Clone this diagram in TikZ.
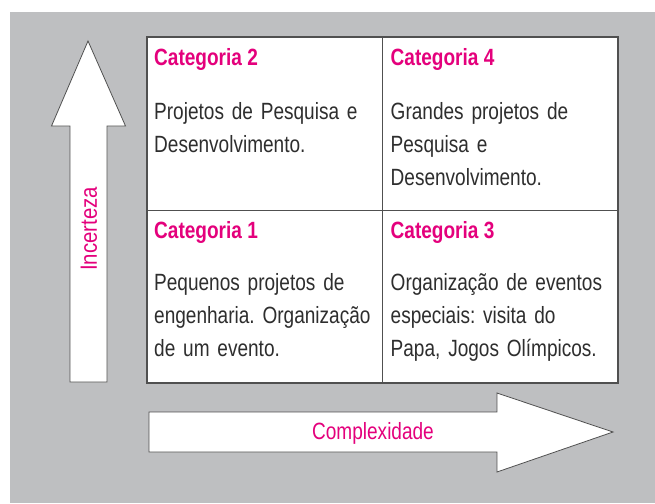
\documentclass[tikz,border=0pt]{standalone}
\usepackage{fontspec}
\setmainfont{Liberation Sans}[FakeStretch=0.81]
\definecolor{bg}{HTML}{BEBFC1}
\definecolor{mag}{HTML}{E4007C}
\definecolor{txt}{HTML}{2E2E2E}
\definecolor{edge}{HTML}{505050}
\begin{document}
\begin{tikzpicture}[x=1pt,y=-1pt,
  head/.style={anchor=base west,inner sep=0pt,text=mag,font=\fontsize{23.5}{33}\selectfont\bfseries},
  body/.style={anchor=base west,inner sep=0pt,text=txt,align=left,text width=225pt,font=\fontsize{23.5}{33}\selectfont\frenchspacing},
  axislabel/.style={inner sep=0pt,text=mag,font=\fontsize{23.5}{33}\selectfont},
  bigarrow/.style={fill=white,draw=edge,line width=0.8pt}]
\useasboundingbox (0,0) rectangle (655,503);
\fill[bg] (10,12) rectangle (655,503);
% matrix
\fill[white] (147,37) rectangle (618,383);
\draw[edge,line width=0.9pt] (382,37) -- (382,383) (147,210) -- (618,210);
\draw[edge,line width=1.3pt] (147,37) rectangle (618,383);
% arrows
\draw[bigarrow] (88,41) -- (125.5,126) -- (107,126) -- (107,382) -- (70,382) -- (70,126) -- (51.5,126) -- cycle;
\draw[bigarrow] (149,412) -- (497,412) -- (497,393) -- (613,432) -- (497,472) -- (497,452) -- (149,452) -- cycle;
\node[axislabel,rotate=90,xscale=1.07] (inc) at (89,229) {Incerteza};
\node[axislabel,anchor=base] (comp) at (373,439.3) {Complexidade};
% cells
\node[head] (h2) at (154,65.3) {Categoria 2};
\node[body] (b2) at (154,119.5) {Projetos de Pesquisa e\\Desenvolvimento.};
\node[head] (h4) at (390.5,65.3) {Categoria 4};
\node[body] (b4) at (390.5,119.5) {Grandes projetos de\\Pesquisa e\\Desenvolvimento.};
\node[head] (h1) at (154,238.3) {Categoria 1};
\node[body] (b1) at (154,290.5) {Pequenos projetos de\\engenharia. Organização\\de um evento.};
\node[head] (h3) at (390.5,238.3) {Categoria 3};
\node[body] (b3) at (390.5,290.5) {Organização de eventos\\especiais: visita do\\Papa, Jogos Olímpicos.};
\end{tikzpicture}
\end{document}
